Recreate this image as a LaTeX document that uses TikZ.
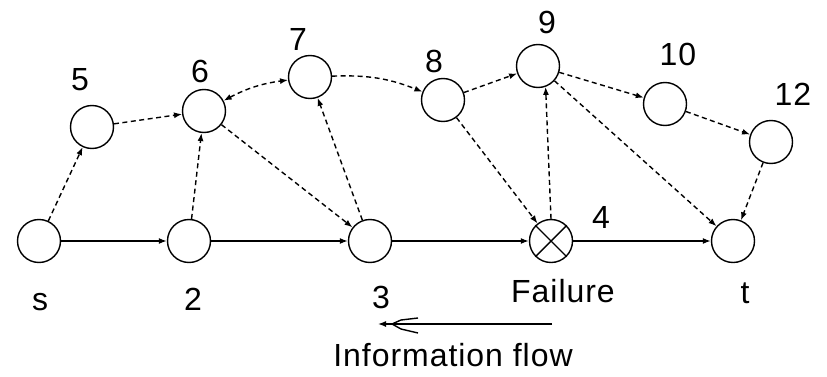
\documentclass[tikz,border=0pt]{standalone}
\usepackage{fontspec}
\setmainfont{Liberation Sans}[LetterSpace=3]
\usetikzlibrary{arrows.meta}
\begin{document}
\begin{tikzpicture}[x=1pt,y=1pt,
  vertex/.style={circle,draw,line width=1.4pt,minimum size=43pt,inner sep=0pt},
  lbl/.style={font=\fontsize{32}{32}\selectfont,anchor=base,inner sep=0pt},
  tip/.style={-{Latex[length=8pt,width=6pt]}},
  hop/.style={tip,line width=1.4pt},
  probe/.style={tip,line width=1.4pt,dash pattern=on 5pt off 3.5pt},
  probeboth/.style={probe,{Latex[length=8pt,width=6pt]}-{Latex[length=8pt,width=6pt]}}
]
\useasboundingbox (0,0) rectangle (827,376);

% nodes of the path and of the detour
\node[vertex] (s)   at (39,135)  {};
\node[vertex] (n2)  at (189,135) {};
\node[vertex] (n3)  at (370,135) {};
\node[vertex] (n4)  at (551,135) {};
\node[vertex] (t)   at (733,135) {};
\node[vertex] (n5)  at (92,249)  {};
\node[vertex] (n6)  at (204,265) {};
\node[vertex] (n7)  at (310,299) {};
\node[vertex] (n8)  at (443,276) {};
\node[vertex] (n9)  at (538,310) {};
\node[vertex] (n10) at (665,272) {};
\node[vertex] (n12) at (771,234) {};

% failed node is crossed out
\draw[line width=1.4pt] (n4.135) -- (n4.-45) (n4.45) -- (n4.-135);

% labels
\node[lbl] (ls)  at (40,66)   {s};
\node[lbl] (l2)  at (193,66)  {2};
\node[lbl] (l3)  at (381,68)  {3};
\node[lbl] (lf)  at (563,74)  {Failure};
\node[lbl] (lt)  at (745,73)  {t};
\node[lbl] (l4)  at (601,148) {4};
\node[lbl] (l5)  at (80,286)  {5};
\node[lbl] (l6)  at (200,294) {6};
\node[lbl] (l7)  at (298,326) {7};
\node[lbl] (l8)  at (434,304) {8};
\node[lbl] (l9)  at (547,343) {9};
\node[lbl] (l10) at (678,311) {10};
\node[lbl] (l12) at (793,271) {12};
\node[lbl] (lif) at (453,10)  {Information flow};

% solid links of the original path
\draw[hop] (s) -- (n2);
\draw[hop] (n2) -- (n3);
\draw[hop] (n3) -- (n4);
\draw[hop] (n4) -- (t);

% dashed links
\draw[probe] (s) -- (n5);
\draw[probe] (n5) -- (n6);
\draw[probe] (n2) -- (n6);
\draw[probeboth] (n6) to[bend left=10] (n7);
\draw[probe] (n6) -- (n3);
\draw[probe] (n3) -- (n7);
\draw[probe] (n7) to[bend left=12] (n8);
\draw[probe] (n8) -- (n9);
\draw[probe] (n8) -- (n4);
\draw[probe] (n4.north) -- (n9.290);
\draw[probe] (n9) -- (n10);
\draw[probe] (n9) -- (t);
\draw[probe] (n10) -- (n12);
\draw[probe] (n12) -- (t);

% information flow arrow with its barbs
\coordinate (fa) at (552,52);
\coordinate (fb) at (378,52);
\draw[hop] (fa) -- (fb);
\draw[line width=1.4pt] (fb) ++(14,0) -- ++(9,4) -- ++(17,2)
                        (fb) ++(14,0) -- ++(9,-5) -- ++(17,-4);
\end{tikzpicture}
\end{document}
